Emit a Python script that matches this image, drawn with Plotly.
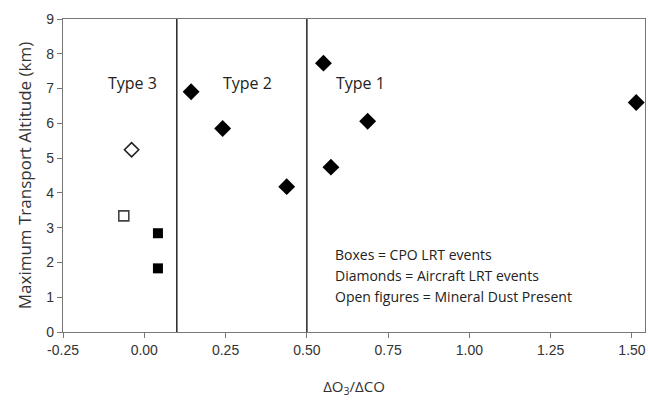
import plotly.graph_objects as go

# Aircraft LRT events (diamonds), no dust
air_x = [0.144, 0.241, 0.438, 0.551, 0.574, 0.687, 1.513]
air_y = [6.91, 5.85, 4.18, 7.73, 4.74, 6.06, 6.60]
# CPO LRT events (boxes), no dust
cpo_x = [0.042, 0.042]
cpo_y = [2.84, 1.83]
# Mineral dust present (open figures)
dust_air_x = [-0.039]
dust_air_y = [5.24]
dust_cpo_x = [-0.063]
dust_cpo_y = [3.34]

boundaries = [0.1, 0.5]
type_labels = ["Type 3", "Type 2", "Type 1"]
type_label_x = [-0.035, 0.316, 0.664]
type_label_y = 7.17
legend_lines = ["Boxes = CPO LRT events",
                "Diamonds = Aircraft LRT events",
                "Open figures = Mineral Dust Present"]

fig = go.Figure()
fig.add_trace(go.Scatter(x=air_x, y=air_y, mode="markers",
                         marker=dict(symbol="diamond", size=13, color="black")))
fig.add_trace(go.Scatter(x=cpo_x, y=cpo_y, mode="markers",
                         marker=dict(symbol="square", size=10, color="black")))
fig.add_trace(go.Scatter(x=dust_air_x, y=dust_air_y, mode="markers",
                         marker=dict(symbol="diamond-open", size=11, color="#222",
                                     line=dict(width=1.6))))
fig.add_trace(go.Scatter(x=dust_cpo_x, y=dust_cpo_y, mode="markers",
                         marker=dict(symbol="square-open", size=10, color="#444",
                                     line=dict(width=1.6))))

for b in boundaries:
    fig.add_shape(type="line", x0=b, x1=b, y0=0, y1=9, xref="x", yref="y",
                  line=dict(color="#333", width=1.6))

for lbl, lx in zip(type_labels, type_label_x):
    fig.add_annotation(x=lx, y=type_label_y, text=lbl, showarrow=False,
                       font=dict(family="Open Sans", size=16, color="#222"))

for i, line in enumerate(legend_lines):
    fig.add_annotation(x=0.58, y=2.22 - i * 0.6, text=line, showarrow=False,
                       xanchor="left", yanchor="middle",
                       font=dict(family="Open Sans", size=14, color="#222"))

fig.update_layout(
    width=648, height=401,
    margin=dict(l=63, r=3, t=19, b=69),
    plot_bgcolor="white", paper_bgcolor="white",
    showlegend=False,
    font=dict(family="Liberation Sans", color="#333"),
)
fig.update_xaxes(range=[-0.25, 1.54], tickvals=[-0.25, 0, 0.25, 0.5, 0.75, 1.0, 1.25, 1.5],
                 ticktext=["-0.25", "0.00", "0.25", "0.50", "0.75", "1.00", "1.25", "1.50"],
                 showgrid=False, zeroline=False, showline=True, linecolor="#777",
                 linewidth=1.3, mirror=True, ticks="outside", ticklen=5, tickcolor="#777",
                 tickfont=dict(size=14, color="#333"),
                 title=dict(text="ΔO<sub>3</sub>/ΔCO", font=dict(family="Open Sans", size=15),
                            standoff=24))
fig.update_yaxes(range=[0, 9], dtick=1, showgrid=False, zeroline=False, showline=True,
                 linecolor="#777", linewidth=1.3, mirror=True, ticks="outside", ticklen=5,
                 tickcolor="#777", tickfont=dict(size=14, color="#333"),
                 title=dict(text="Maximum Transport Altitude (km)",
                            font=dict(family="Open Sans", size=17), standoff=10))

fig.write_html("out.html")
